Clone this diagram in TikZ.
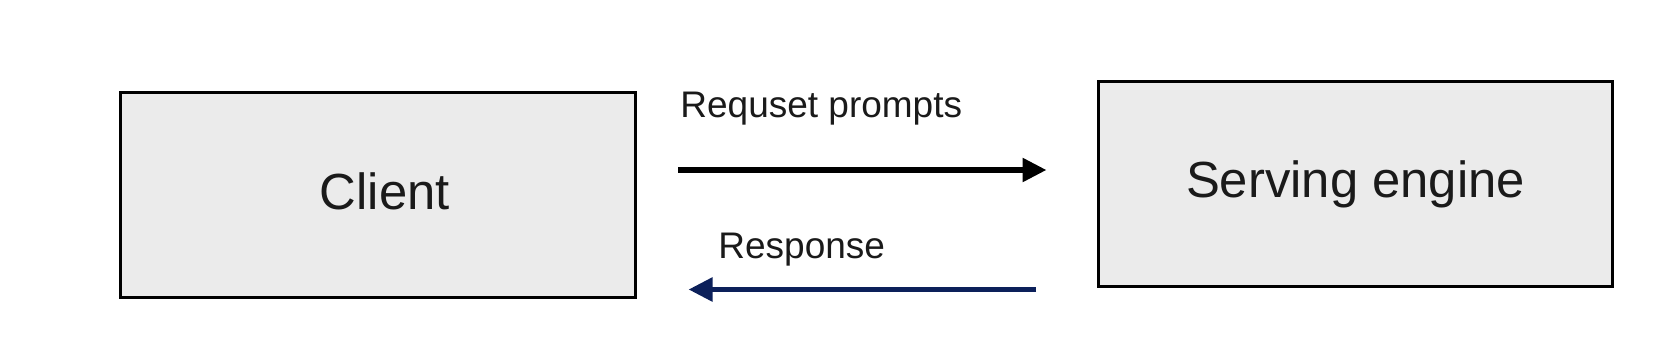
\documentclass[tikz,border=0pt]{standalone}
\usepackage{fontspec}
\setmainfont{Liberation Sans}
\usetikzlibrary{arrows.meta}
\definecolor{boxfill}{HTML}{EBEBEB}
\definecolor{txtdark}{HTML}{1A1A1A}
\definecolor{respnavy}{HTML}{0C205A}

\begin{document}
\begin{tikzpicture}[
    x=0.5pt, y=-0.5pt,
    block/.style={draw=black, fill=boxfill, line width=1.5pt, text=txtdark,
        minimum width=257.25pt, minimum height=102.5pt, inner sep=0pt,
        font=\fontsize{25.4}{30}\selectfont},
    lbl/.style={inner sep=0pt, anchor=base west, text=txtdark,
        font=\fontsize{18.5}{22}\selectfont},
    link/.style={line width=2.75pt},
    >={Triangle[length=12pt, width=11.5pt]}
]

% Canvas
\useasboundingbox (0,0) rectangle (1656,354);

% Boxes
\node[block] (client) at (377.75,195) {\hspace*{7pt}\raisebox{4pt}{Client}};
\node[block] (engine) at (1355.5,184.25) {Serving engine};

% Request
\coordinate (ReqA) at (678,170);
\coordinate (ReqB) at (1046.5,170);
\draw[->, link, black] (ReqA) -- (ReqB);
\node[lbl] (reqlbl) at (680,117.3) {Requset prompts};

% Response
\coordinate (ResA) at (1036,289.5);
\coordinate (ResB) at (688.5,289.5);
\draw[->, link, respnavy] (ResA) -- (ResB);
\node[lbl] (reslbl) at (718,258.3) {Response};

\end{tikzpicture}
\end{document}
